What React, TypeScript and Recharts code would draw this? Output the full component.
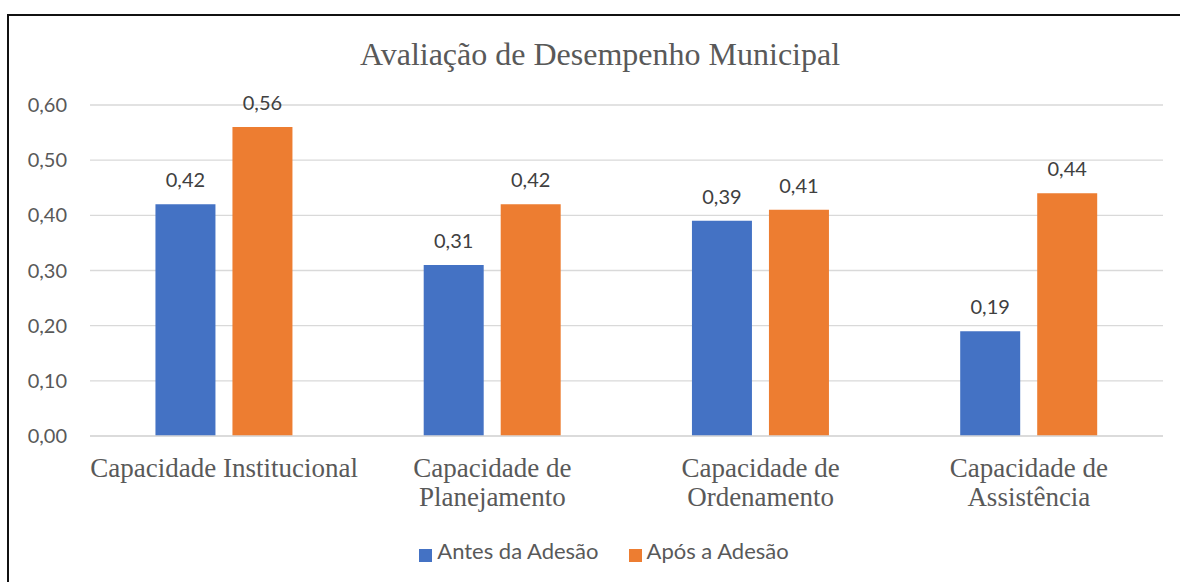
import React from 'react';
import { BarChart, Bar, XAxis, YAxis, CartesianGrid, LabelList, Legend } from 'recharts';

const categories = [
  'Capacidade Institucional',
  'Capacidade de Planejamento',
  'Capacidade de Ordenamento',
  'Capacidade de Assistência',
];
const antes = [0.42, 0.31, 0.39, 0.19];
const apos = [0.56, 0.42, 0.41, 0.44];
const yTicks = [0, 0.1, 0.2, 0.3, 0.4, 0.5, 0.6];

const data = categories.map((name, i) => ({ name, antes: antes[i], apos: apos[i] }));

const fmt = (v: any) => Number(v).toFixed(2).replace('.', ',');

// long names go on two lines, last word below
const splitLabel = (s: string) => {
  if (s.length <= 24) return [s];
  const i = s.lastIndexOf(' ');
  return [s.slice(0, i), s.slice(i + 1)];
};

const CategoryTick = (props: any) => {
  const { x, y, payload } = props;
  const lines = splitLabel(payload.value);
  return (
    <text x={x} y={y} textAnchor="middle" fill="#595959" fontFamily="'Liberation Serif', 'Times New Roman', serif" fontSize={27}>
      {lines.map((l, i) => (
        <tspan key={i} x={x} dy={i === 0 ? 41 : 29}>
          {l}
        </tspan>
      ))}
    </text>
  );
};

export default function App() {
  return (
    <div style={{ position: 'relative', width: 1180, height: 582, overflow: 'hidden', background: '#fff' }}>
      <style>{'body{margin:0}'}</style>
      <div
        style={{
          position: 'absolute',
          left: 7,
          top: 14,
          width: 1200,
          height: 600,
          borderLeft: '2px solid #111',
          borderTop: '2px solid #111',
        }}
      />
      <div
        style={{
          position: 'absolute',
          top: 36,
          left: 0,
          width: 1200,
          textAlign: 'center',
          fontFamily: "'Liberation Serif', 'Times New Roman', serif",
          fontSize: 32,
          color: '#595959',
          lineHeight: '36px',
        }}
      >
        Avaliação de Desempenho Municipal
      </div>
      <div style={{ position: 'absolute', left: 0, top: 0 }}>
        <BarChart
          width={1180}
          height={582}
          data={data}
          margin={{ top: 105, right: 17, bottom: 66, left: 30 }}
          barCategoryGap="24.4%"
          barGap={17}
        >
          <CartesianGrid vertical={false} stroke="#D9D9D9" strokeWidth={1.3} />
          <XAxis
            dataKey="name"
            axisLine={{ stroke: '#D9D9D9', strokeWidth: 1.3 }}
            tickLine={false}
            tickSize={0}
            tickMargin={0}
            height={80}
            interval={0}
            tick={<CategoryTick />}
          />
          <YAxis
            width={60}
            domain={[0, 0.6]}
            ticks={yTicks}
            tickFormatter={fmt}
            axisLine={false}
            tickLine={false}
            tickSize={6}
            tickMargin={17}
            tick={{ fill: '#595959', fontSize: 20, fontFamily: 'Lato, Calibri, sans-serif' }}
          />
          <Legend
            layout="horizontal"
            verticalAlign="middle"
            align="center"
            iconType="square"
            iconSize={13}
            wrapperStyle={{ top: 537, left: 0, width: 1238 }}
            formatter={(value: any) => (
              <span style={{ color: '#595959', fontSize: 22, fontFamily: 'Lato, Calibri, sans-serif', paddingLeft: 1, paddingRight: 20 }}>
                {value}
              </span>
            )}
          />
          <Bar dataKey="antes" name="Antes da Adesão" fill="#4472C4" isAnimationActive={false}>
            <LabelList dataKey="antes" position="top" offset={17} formatter={fmt} fill="#404040" fontSize={20} fontFamily="Lato, Calibri, sans-serif" />
          </Bar>
          <Bar dataKey="apos" name="Após a Adesão" fill="#ED7D31" isAnimationActive={false}>
            <LabelList dataKey="apos" position="top" offset={17} formatter={fmt} fill="#404040" fontSize={20} fontFamily="Lato, Calibri, sans-serif" />
          </Bar>
        </BarChart>
      </div>
    </div>
  );
}
